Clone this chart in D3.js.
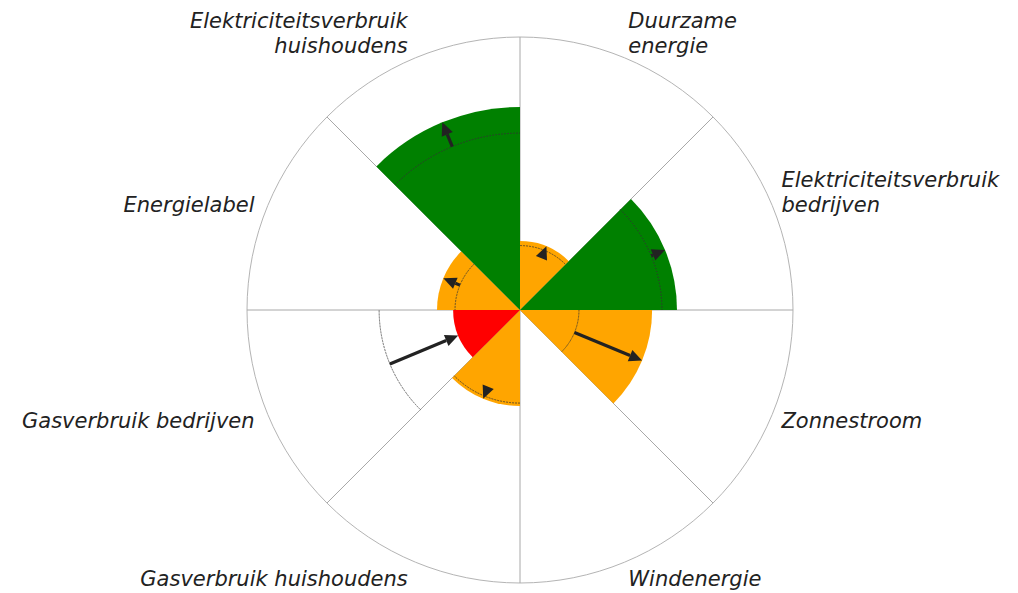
<!DOCTYPE html>
<html><head><meta charset="utf-8">
<script src="https://cdn.jsdelivr.net/npm/d3@7"></script>
<style>body{margin:0;background:#fff}svg{display:block}</style></head>
<body><svg id="chart" width="1018" height="593"></svg>
<script>
// Data (clockwise from 12 o'clock)
const categories = [
  "Duurzame\nenergie",
  "Elektriciteitsverbruik\nbedrijven",
  "Zonnestroom",
  "Windenergie",
  "Gasverbruik huishoudens",
  "Gasverbruik bedrijven",
  "Energielabel",
  "Elektriciteitsverbruik\nhuishoudens"
];
const currentValues  = [25.3, 57.5, 48.4, null, 35.2, 24.5, 30.4, 74.4];
const previousValues = [23.6, 52.0, 21.6, null, 34.1, 51.6, 23.8, 64.8];
const statuses = ["oranje", "groen", "oranje", null, "oranje", "rood", "oranje", "groen"];
const statusColors = { groen: "#008000", oranje: "#ffa500", rood: "#ff0000" };

const svg = d3.select("#chart");
const cx = 520, cy = 310, R = 273;
const g = svg.append("g").attr("transform", `translate(${cx},${cy})`);

const n = categories.length;
const angle = d3.scaleBand().domain(d3.range(n)).range([0, 2 * Math.PI]).paddingInner(0).paddingOuter(0);
const r = d3.scaleLinear().domain([0, 100]).range([0, R]);

// Grid: outer circle + spokes
g.append("circle").attr("r", R).attr("fill", "#fff").attr("stroke", "#b4b4b4").attr("stroke-width", 1);
g.selectAll("line.spoke").data(d3.range(n)).join("line")
  .attr("class", "spoke")
  .attr("x1", 0).attr("y1", 0)
  .attr("x2", i => R * Math.sin(angle(i)))
  .attr("y2", i => -R * Math.cos(angle(i)))
  .attr("stroke", "#a8a8a8").attr("stroke-width", 1);

const rows = d3.range(n).map(i => ({
  i, label: categories[i], cur: currentValues[i], prev: previousValues[i], status: statuses[i],
  a0: angle(i), a1: angle(i) + angle.bandwidth(), am: angle(i) + angle.bandwidth() / 2
}));

// Sectors
const arc = d3.arc();
g.selectAll("path.sector").data(rows.filter(d => d.cur != null)).join("path")
  .attr("class", "sector")
  .attr("d", d => arc({ innerRadius: 0, outerRadius: r(d.cur), startAngle: d.a0, endAngle: d.a1 }))
  .attr("fill", d => statusColors[d.status]);

// Previous value dotted arcs
g.selectAll("path.prev").data(rows.filter(d => d.prev != null)).join("path")
  .attr("class", "prev")
  .attr("d", d => arc({ innerRadius: r(d.prev), outerRadius: r(d.prev), startAngle: d.a0, endAngle: d.a1 }))
  .attr("fill", "none").attr("stroke", "#333").attr("stroke-width", 0.8).attr("stroke-dasharray", "1,2");

// Arrows from previous to current
const headLen = 13, headW = 6;
const arrows = g.selectAll("g.arrow").data(rows.filter(d => d.cur != null && d.prev != null)).join("g").attr("class", "arrow");
arrows.each(function(d) {
  const s = Math.sin(d.am), c = -Math.cos(d.am);
  const r0 = r(d.prev), r1 = r(d.cur);
  const dir = r1 >= r0 ? 1 : -1;
  const base = r1 - dir * headLen;
  const el = d3.select(this);
  if ((base - r0) * dir > 0) {
    el.append("line")
      .attr("x1", r0 * s).attr("y1", r0 * c)
      .attr("x2", base * s).attr("y2", base * c)
      .attr("stroke", "#222").attr("stroke-width", 3.2);
  }
  const tip = [r1 * s, r1 * c];
  const b = [base * s, base * c];
  const px = -c, py = s;
  el.append("path")
    .attr("d", `M${tip[0]},${tip[1]} L${b[0] + px * headW},${b[1] + py * headW} L${b[0] - px * headW},${b[1] - py * headW} Z`)
    .attr("fill", "#222");
});

// Labels
const labelR = 283;
const lineH = 25;
rows.forEach(d => {
  const s = Math.sin(d.am), c = Math.cos(d.am);
  let x = labelR * s, y = -labelR * c;
  const lines = d.label.split("\n");
  const anchor = s >= 0 ? "start" : "end";
  if (anchor === "end") x -= 4;
  let firstBase;
  if (c > 0.5) firstBase = y + 4 - (lines.length - 1) * lineH;
  else if (c < -0.5) firstBase = y + 15;
  else firstBase = y + 10 - (lines.length - 1) * lineH;
  const t = g.append("text")
    .attr("text-anchor", anchor)
    .attr("font-family", "'DejaVu Sans', sans-serif")
    .attr("font-style", "italic")
    .attr("font-size", 21)
    .attr("fill", "#222");
  lines.forEach((ln, k) => {
    t.append("tspan").attr("x", x).attr("y", firstBase + k * lineH).text(ln);
  });
});
</script>
</body></html>
